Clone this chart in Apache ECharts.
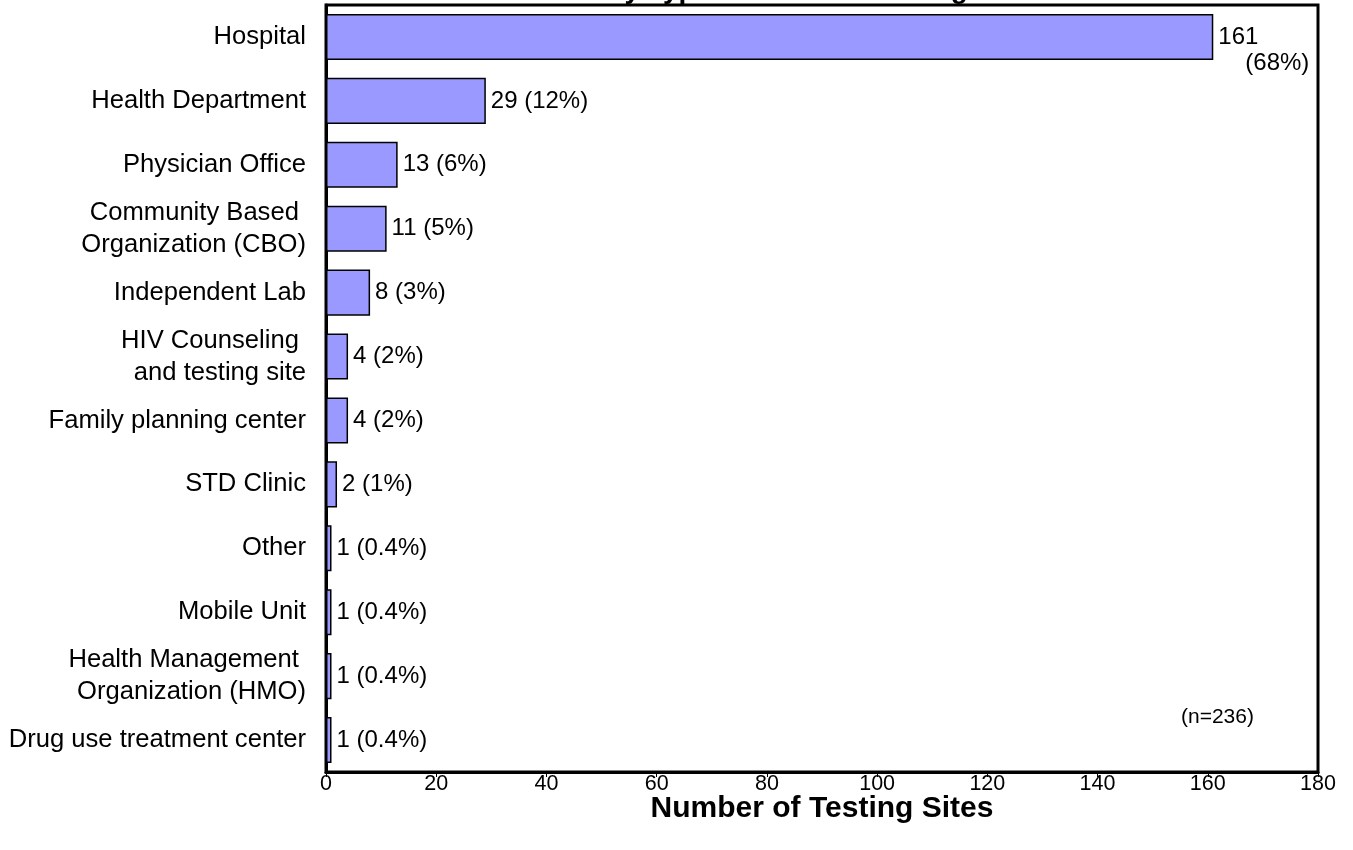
<!DOCTYPE html>
<html>
<head>
<meta charset="utf-8">
<title>Testing Sites by Type</title>
<script src="https://cdn.jsdelivr.net/npm/echarts@6/dist/echarts.min.js"></script>
<style>
  html, body { margin: 0; padding: 0; background: #fff; }
  #chart { width: 1353px; height: 850px; }
</style>
</head>
<body>
<div id="chart"></div>
<script>
// Site types, top to bottom
const categories = [
  'Hospital',
  'Health Department',
  'Physician Office',
  'Community Based \nOrganization (CBO)',
  'Independent Lab',
  'HIV Counseling \nand testing site',
  'Family planning center',
  'STD Clinic',
  'Other',
  'Mobile Unit',
  'Health Management \nOrganization (HMO)',
  'Drug use treatment center'
];
// Number of sites of each type
const siteCounts = [161, 29, 13, 11, 8, 4, 4, 2, 1, 1, 1, 1];
// Share of all sites, as printed beside each bar
const sharePct = ['68%', '12%', '6%', '5%', '3%', '2%', '2%', '1%', '0.4%', '0.4%', '0.4%', '0.4%'];
const totalSites = 236;
const xTicks = [0, 20, 40, 60, 80, 100, 120, 140, 160, 180];

const FONT = 'Liberation Sans, Arial, Helvetica, sans-serif';
const VALUE_SIZE = 24;

const chart = echarts.init(document.getElementById('chart'), null, { renderer: 'canvas' });

const seriesData = siteCounts.map((v, i) => {
  const item = { value: v };
  if (i === 0) {
    // the longest bar gets its label wrapped onto two lines
    item.label = {
      formatter: '{a|' + v + '}\n{b|(' + sharePct[i] + ')}',
      offset: [0, 13],
      rich: {
        a: { fontFamily: FONT, fontSize: VALUE_SIZE, color: '#000', lineHeight: 26 },
        b: { fontFamily: FONT, fontSize: VALUE_SIZE, color: '#000', lineHeight: 26, padding: [0, 0, 0, 27] }
      }
    };
  }
  return item;
});

chart.setOption({
  animation: false,
  backgroundColor: '#fff',
  title: {
    text: 'Number of Sites by Type of Site Conducting',
    left: 380,
    top: -29,
    textStyle: { fontFamily: FONT, fontSize: 28, fontWeight: 'bold', color: '#000' }
  },
  grid: {
    left: 326, right: 35, top: 5, bottom: 78,
    show: true, borderColor: '#000', borderWidth: 3, backgroundColor: '#fff'
  },
  xAxis: {
    type: 'value',
    min: xTicks[0],
    max: xTicks[xTicks.length - 1],
    interval: xTicks[1] - xTicks[0],
    name: 'Number of Testing Sites',
    nameLocation: 'middle',
    nameGap: 22,
    nameMoveOverlap: false,
    nameTextStyle: { fontFamily: FONT, fontSize: 30, fontWeight: 'bold', color: '#000' },
    axisLine: { show: true, lineStyle: { color: '#000', width: 3 } },
    axisTick: { show: true, inside: false, length: 5, lineStyle: { color: '#000', width: 1 } },
    axisLabel: { fontFamily: FONT, fontSize: 21.5, color: '#000', margin: 1 },
    splitLine: { show: false }
  },
  yAxis: {
    type: 'category',
    data: categories,
    inverse: true,
    axisLine: { show: true, lineStyle: { color: '#000', width: 3 } },
    axisTick: { show: false },
    axisLabel: { fontFamily: FONT, fontSize: 25.6, color: '#000', margin: 20, lineHeight: 32, align: 'right' },
    splitLine: { show: false }
  },
  series: [{
    type: 'bar',
    data: seriesData,
    barCategoryGap: '28%',
    itemStyle: { color: '#9999ff', borderColor: '#000', borderWidth: 1.5 },
    label: {
      show: true,
      position: 'right',
      distance: 5,
      fontFamily: FONT,
      fontSize: VALUE_SIZE,
      color: '#000',
      formatter: p => p.value + ' (' + sharePct[p.dataIndex] + ')'
    }
  }],
  graphic: [{
    type: 'text',
    left: 1181,
    top: 707,
    style: { text: '(n=' + totalSites + ')', font: '21px ' + FONT, fill: '#000' }
  }]
});
</script>
</body>
</html>
